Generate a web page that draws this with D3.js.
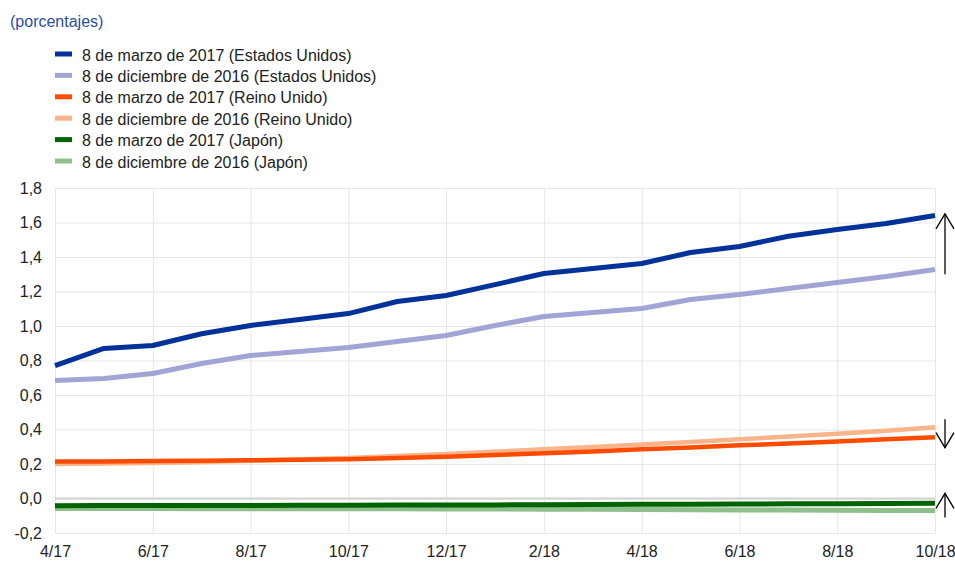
<!DOCTYPE html>
<html>
<head>
<meta charset="utf-8">
<script src="https://cdn.jsdelivr.net/npm/d3@7"></script>
<style>
  body { margin: 0; background: #fff; font-family: "Liberation Sans", Arial, sans-serif; }
  .grid line { stroke: #e6e6e6; stroke-width: 1; }
  .grid path { display: none; }
  .axis path, .axis line { display: none; }
  .axis text { font-size: 16px; fill: #222; font-family: "Liberation Sans", Arial, sans-serif; }
  .line { fill: none; stroke-linejoin: round; }
</style>
</head>
<body>
<div id="chart"></div>
<script>
// Monthly points, 4/17 .. 10/18
const months = ['4/17','5/17','6/17','7/17','8/17','9/17','10/17','11/17','12/17','1/18',
                '2/18','3/18','4/18','5/18','6/18','7/18','8/18','9/18','10/18'];

const usMar17 = [0.77,0.87,0.887,0.955,1.003,1.038,1.072,1.142,1.177,1.24,1.304,1.333,1.362,1.426,1.461,1.52,1.559,1.594,1.641];
const usDec16 = [0.684,0.696,0.725,0.783,0.829,0.852,0.875,0.91,0.945,1.003,1.055,1.078,1.101,1.154,1.183,1.217,1.252,1.287,1.328];
const ukMar17 = [0.214,0.215,0.217,0.219,0.222,0.225,0.228,0.235,0.242,0.252,0.262,0.273,0.285,0.296,0.308,0.319,0.331,0.343,0.355];
const ukDec16 = [0.200,0.203,0.206,0.212,0.219,0.227,0.235,0.246,0.258,0.271,0.285,0.299,0.313,0.328,0.343,0.359,0.375,0.393,0.413];
const jpMar17 = [-0.042,-0.041,-0.041,-0.040,-0.040,-0.039,-0.039,-0.038,-0.038,-0.037,-0.036,-0.035,-0.034,-0.033,-0.032,-0.031,-0.030,-0.029,-0.028];
const jpDec16 = [-0.058,-0.058,-0.058,-0.059,-0.059,-0.060,-0.060,-0.060,-0.061,-0.061,-0.062,-0.063,-0.064,-0.065,-0.066,-0.067,-0.068,-0.069,-0.070];

const seriesNames = [
  '8 de marzo de 2017 (Estados Unidos)',
  '8 de diciembre de 2016 (Estados Unidos)',
  '8 de marzo de 2017 (Reino Unido)',
  '8 de diciembre de 2016 (Reino Unido)',
  '8 de marzo de 2017 (Japón)',
  '8 de diciembre de 2016 (Japón)'
];
const seriesColors = ['#003299', '#a0a5d6', '#ff4b00', '#f9b48a', '#006400', '#8fbf8b'];
const seriesValues = [usMar17, usDec16, ukMar17, ukDec16, jpMar17, jpDec16];

const yTicks = [-0.2, 0, 0.2, 0.4, 0.6, 0.8, 1.0, 1.2, 1.4, 1.6, 1.8];
const xTickLabels = ['4/17','6/17','8/17','10/17','12/17','2/18','4/18','6/18','8/18','10/18'];

// Change arrows at the right edge: [from, to]
const arrows = [[1.30, 1.65], [0.46, 0.295], [-0.11, 0.03]];

const W = 955, H = 572;
const svg = d3.select('#chart').append('svg').attr('width', W).attr('height', H);

const x = d3.scalePoint().domain(months).range([55, 935]);
const y = d3.scaleLinear().domain([-0.2, 1.8]).range([533, 188]);

// Grid
svg.append('g')
  .attr('class', 'grid')
  .attr('transform', 'translate(0,533)')
  .call(d3.axisBottom(x).tickValues(xTickLabels).tickSize(-345).tickFormat(''));

svg.append('g')
  .attr('class', 'grid')
  .attr('transform', 'translate(55,0)')
  .call(d3.axisLeft(y).tickValues(yTicks).tickSize(-880).tickFormat(''));

// Zero line
svg.append('line')
  .attr('x1', 55).attr('x2', 935)
  .attr('y1', y(0)).attr('y2', y(0))
  .attr('stroke', '#d2d2d2').attr('stroke-width', 2);

// Axes labels
const fmt = d => d3.format('.1f')(d).replace('.', ',').replace('−', '-');
svg.append('g')
  .attr('class', 'axis')
  .attr('transform', 'translate(42,0)')
  .call(d3.axisLeft(y).tickValues(yTicks).tickSize(0).tickPadding(0).tickFormat(fmt));

svg.append('g')
  .attr('class', 'axis')
  .attr('transform', 'translate(0,546)')
  .call(d3.axisBottom(x).tickValues(xTickLabels).tickSize(0).tickPadding(0))
  .selectAll('text').attr('dy', '0.71em');

// Lines (drawn so dark ones sit on top in each pair)
const line = d3.line().x((d, i) => x(months[i])).y(d => y(d));
[5, 4, 3, 2, 1, 0].forEach(i => {
  svg.append('path')
    .datum(seriesValues[i])
    .attr('class', 'line')
    .attr('d', line)
    .attr('stroke', seriesColors[i])
    .attr('stroke-width', i === 2 || i === 3 ? 4.5 : 5);
});

// Arrows
const ax = x(months[months.length - 1]) + 10;
arrows.forEach(([from, to]) => {
  const y0 = y(from), y1 = y(to);
  const dir = y1 < y0 ? 1 : -1;
  const g = svg.append('g').attr('stroke', '#000').attr('stroke-width', 1.3).attr('fill', 'none');
  g.append('line').attr('x1', ax).attr('x2', ax).attr('y1', y0).attr('y2', y1);
  g.append('path')
    .attr('d', `M${ax - 9},${y1 + dir * 15}L${ax},${y1}L${ax + 9},${y1 + dir * 15}`);
});

// Title
svg.append('text')
  .attr('x', 10).attr('y', 27)
  .attr('font-size', 16)
  .attr('fill', '#2b4ea2')
  .text('(porcentajes)');

// Legend
const legend = svg.append('g').attr('transform', 'translate(55,54)');
seriesNames.forEach((name, i) => {
  const row = legend.append('g').attr('transform', `translate(0,${i * 21.4})`);
  row.append('rect').attr('x', 0).attr('y', -2.5).attr('width', 17).attr('height', 5).attr('fill', seriesColors[i]);
  row.append('text').attr('x', 27).attr('y', 6.5).attr('font-size', 16).attr('fill', '#222').text(name);
});
</script>
</body>
</html>
